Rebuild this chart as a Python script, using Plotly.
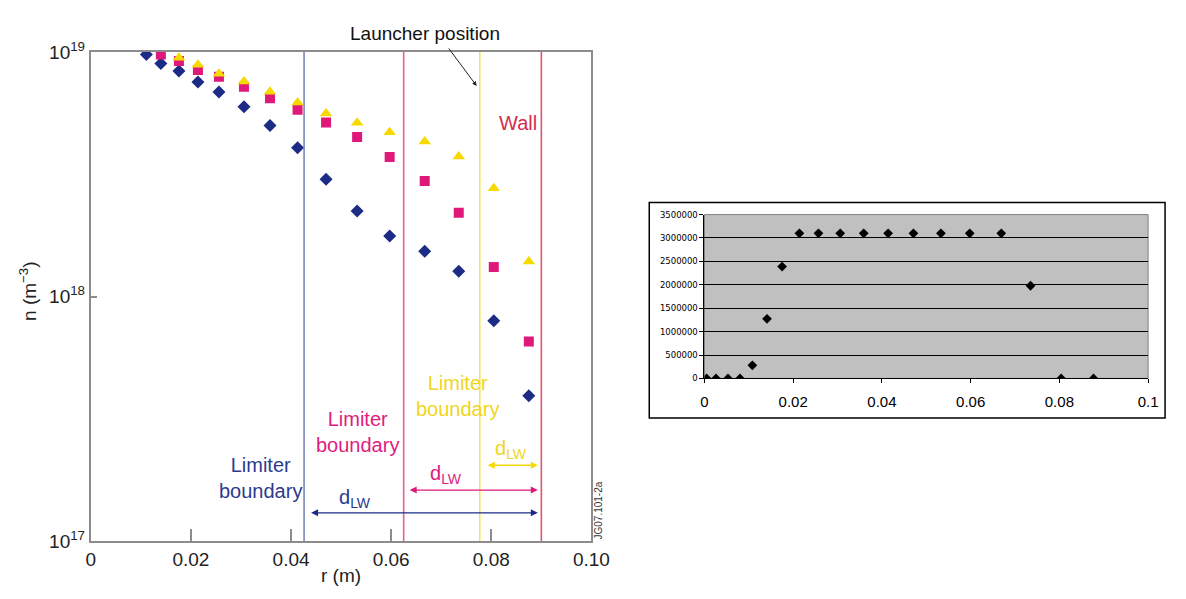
import plotly.graph_objects as go

# ---------------------------------------------------------------- data
# Density profiles n(r) for three limiter positions (m, m^-3)
r_blue = [0.0111, 0.0140, 0.0176, 0.0214, 0.0256, 0.0306, 0.0358, 0.0413,
          0.0470, 0.0532, 0.0597, 0.0667, 0.0735, 0.0805, 0.0875]
n_blue = [9.77e18, 8.97e18, 8.37e18, 7.55e18, 6.86e18, 5.97e18, 5.01e18, 4.06e18,
          3.02e18, 2.24e18, 1.77e18, 1.53e18, 1.27e18, 7.95e17, 3.93e17]

r_pink = [0.0140, 0.0176, 0.0214, 0.0256, 0.0306, 0.0358, 0.0413,
          0.0470, 0.0532, 0.0597, 0.0667, 0.0735, 0.0805, 0.0875]
n_pink = [9.77e18, 9.19e18, 8.45e18, 7.92e18, 7.21e18, 6.47e18, 5.81e18,
          5.15e18, 4.49e18, 3.72e18, 2.97e18, 2.20e18, 1.32e18, 6.55e17]

r_yellow = [0.0176, 0.0214, 0.0256, 0.0306, 0.0358, 0.0413,
            0.0470, 0.0532, 0.0597, 0.0667, 0.0735, 0.0805, 0.0875]
n_yellow = [9.47e18, 8.87e18, 8.15e18, 7.58e18, 6.88e18, 6.22e18,
            5.60e18, 5.14e18, 4.70e18, 4.31e18, 3.74e18, 2.77e18, 1.39e18]

# Limiter boundaries (blue, pink, yellow) and wall position (m)
limiter_r = [0.0426, 0.0625, 0.0777]
wall_r = 0.0900
# Start of each d_LW arrow (m)
dlw_start = [0.0437, 0.0634, 0.0790]
dlw_end = 0.0893

x_ticks = [0, 0.02, 0.04, 0.06, 0.08, 0.10]
x_ticktext = ["0", "0.02", "0.04", "0.06", "0.08", "0.10"]
y_ticks = [1e17, 1e18, 1e19]
y_ticktext = ["10<sup>17</sup>", "10<sup>18</sup>", "10<sup>19</sup>"]

# Second profile (right panel)
r_power = [0.0005, 0.0026, 0.0053, 0.0080, 0.0108, 0.0141, 0.0175, 0.0214,
           0.0257, 0.0306, 0.0359, 0.0414, 0.0471, 0.0533, 0.0598, 0.0669,
           0.0735, 0.0804, 0.0877]
p_values = [0, 0, 0, 0, 280000, 1275000, 2390000, 3100000,
            3100000, 3100000, 3100000, 3100000, 3100000, 3100000, 3100000, 3100000,
            1980000, 0, 0]

# ---------------------------------------------------------------- style
W, H = 1186, 599
FONT = "Liberation Sans, Arial, Helvetica, sans-serif"
BLUE, PINK, YELLOW = "#1b2b86", "#e0187a", "#f7d900"
BLUE_LINE, PINK_LINE, YELLOW_LINE, WALL_LINE = "#7d88b8", "#e5609c", "#f2e55c", "#e3536f"
BLUE_TXT, PINK_TXT, YELLOW_TXT, WALL_TXT = "#2c3a8f", "#e01c7f", "#f0d61a", "#d42d4f"
AX = "#8c8c8c"


def px(x):
    return x / W


def py(y):
    return 1 - y / H


fig = go.Figure()

fig.add_trace(go.Scatter(x=r_blue, y=n_blue, mode="markers", xaxis="x", yaxis="y",
                         marker=dict(symbol="diamond", size=10, color=BLUE)))
fig.add_trace(go.Scatter(x=r_pink, y=n_pink, mode="markers", xaxis="x", yaxis="y",
                         marker=dict(symbol="square", size=10, color=PINK)))
fig.add_trace(go.Scatter(x=r_yellow, y=n_yellow, mode="markers", xaxis="x", yaxis="y",
                         marker=dict(symbol="triangle-up", size=11, color=YELLOW)))

fig.add_trace(go.Scatter(x=r_power, y=p_values, mode="markers", xaxis="x2", yaxis="y2",
                         marker=dict(symbol="diamond", size=7.5, color="black")))

shapes = []
# vertical boundary lines
for xv, col in zip(limiter_r + [wall_r], [BLUE_LINE, PINK_LINE, YELLOW_LINE, WALL_LINE]):
    shapes.append(dict(type="line", xref="x", yref="y domain", x0=xv, x1=xv, y0=0, y1=1,
                       line=dict(color=col, width=1.6)))
# grey panel background and outer frame of the right chart
shapes.append(dict(type="rect", xref="x2 domain", yref="y2 domain", x0=0, x1=1, y0=0, y1=1,
                   fillcolor="#c0c0c0", line=dict(color="#808080", width=1), layer="below"))
shapes.append(dict(type="rect", xref="paper", yref="paper",
                   x0=px(657), x1=px(1183), y0=py(422), y1=py(197.5),
                   line=dict(color="black", width=1.5)))

ann = []
# d_LW double arrows (y in log10 units)
arrow_y = [17.115, 17.208, 17.310]
for x0, yv, col in zip(dlw_start, arrow_y, [BLUE, PINK, YELLOW]):
    ann.append(dict(xref="x", yref="y", axref="x", ayref="y", x=dlw_end, y=yv, ax=x0, ay=yv,
                    text="", showarrow=True, arrowside="end+start", arrowhead=2,
                    arrowsize=1, arrowwidth=1.4, arrowcolor=col))

# d_LW labels
for xv, yv, col in zip([0.0527, 0.0709, 0.0840], [17.172, 17.270, 17.375],
                       [BLUE_TXT, PINK_TXT, YELLOW_TXT]):
    ann.append(dict(xref="x", yref="y", x=xv, y=yv, text="d<sub>LW</sub>", showarrow=False,
                    font=dict(family=FONT, size=20, color=col)))

# limiter boundary labels
for xv, yv, col in zip([0.0338, 0.0533, 0.0732], [17.257, 17.444, 17.595],
                       [BLUE_TXT, PINK_TXT, YELLOW_TXT]):
    ann.append(dict(xref="x", yref="y", x=xv, y=yv, text="Limiter<br>boundary",
                    showarrow=False, align="center",
                    font=dict(family=FONT, size=20, color=col)))

ann.append(dict(xref="x", yref="y", x=0.0854, y=18.708, text="Wall", showarrow=False,
                font=dict(family=FONT, size=20, color=WALL_TXT)))

# launcher label and pointer
ann.append(dict(xref="paper", yref="paper", x=px(428), y=py(21), xanchor="center",
                yanchor="middle", text="Launcher position", showarrow=False,
                font=dict(family=FONT, size=19, color="#111111")))
ann.append(dict(xref="paper", yref="paper", x=px(481), y=py(76), ax=-29, ay=-39, text="",
                showarrow=True, arrowhead=2, arrowsize=0.9, arrowwidth=1, arrowcolor="#222222"))

# axis titles
ann.append(dict(xref="paper", yref="paper", x=px(24), y=py(290), xanchor="center",
                yanchor="middle", text="n (m<sup>−3</sup>)", textangle=-90, showarrow=False,
                font=dict(family=FONT, size=19, color="#222222")))
ann.append(dict(xref="paper", yref="paper", x=px(343), y=py(586), xanchor="center",
                yanchor="middle", text="r (m)", showarrow=False,
                font=dict(family=FONT, size=19, color="#222222")))

# figure reference tag
ann.append(dict(xref="paper", yref="paper", x=px(605), y=py(518), xanchor="center",
                yanchor="middle", text="JG07.101-2a", textangle=-90, showarrow=False,
                font=dict(family=FONT, size=10, color="#333333")))

fig.update_layout(
    width=W, height=H,
    margin=dict(l=0, r=0, t=0, b=0),
    paper_bgcolor="white", plot_bgcolor="white",
    showlegend=False,
    shapes=shapes,
    annotations=ann,
    xaxis=dict(domain=[px(87.5), px(598)], anchor="y", range=[0, 0.1],
               tickvals=x_ticks, ticktext=x_ticktext, ticks="inside", ticklen=12,
               tickwidth=1.5, tickcolor=AX, showline=True, linecolor=AX, linewidth=2,
               mirror=True, showgrid=False, zeroline=False,
               tickfont=dict(family=FONT, size=19, color="#222222")),
    yaxis=dict(domain=[py(550), py(40.7)], anchor="x", type="log", range=[17, 19],
               tickvals=y_ticks, ticktext=y_ticktext, ticks="inside", ticklen=6,
               tickwidth=1.5, tickcolor=AX, showline=True, linecolor=AX, linewidth=2,
               mirror=True, showgrid=False, zeroline=False,
               tickfont=dict(family=FONT, size=19, color="#222222")),
    xaxis2=dict(domain=[px(713.3), px(1165.7)], anchor="y2", range=[0, 0.1], dtick=0.02,
                ticks="outside", ticklen=4, tickcolor="black", showline=True,
                linecolor="black", linewidth=1, showgrid=False, zeroline=False,
                ticklabelstandoff=6,
                tickfont=dict(family=FONT, size=15, color="black")),
    yaxis2=dict(domain=[py(380.7), py(210)], anchor="x2", range=[0, 3500000], dtick=500000,
                tickformat="d", ticks="outside", ticklen=4, tickcolor="black",
                showline=True, linecolor="black", linewidth=1, showgrid=True,
                gridcolor="black", gridwidth=1, zeroline=False,
                tickfont=dict(family="DejaVu Sans, sans-serif", size=8.5, color="black")),
)

fig.write_html("out.html")
